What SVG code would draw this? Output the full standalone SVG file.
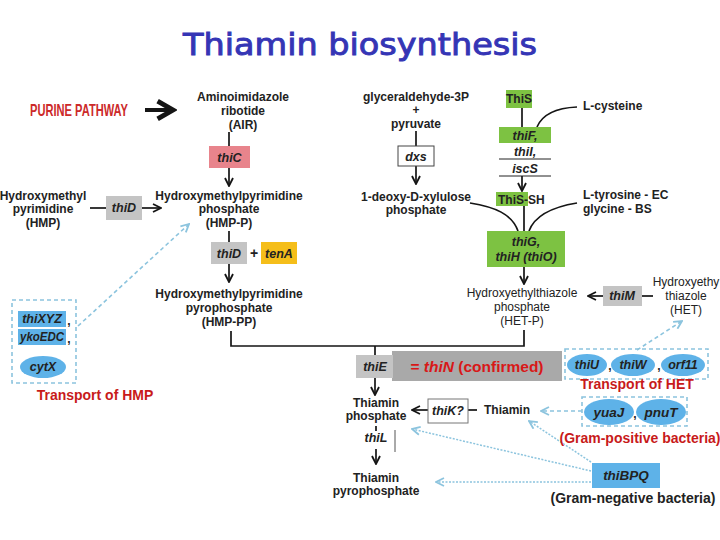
<svg xmlns="http://www.w3.org/2000/svg" width="720" height="540" viewBox="0 0 720 540">
<style>
.t{font-family:"Liberation Sans",Arial,sans-serif;font-size:12px;font-weight:bold;fill:#222;text-anchor:middle}
.n{font-weight:normal}
.s{text-anchor:start}
.g{font-family:"Liberation Sans",Arial,sans-serif;font-size:12.5px;font-weight:bold;font-style:italic;fill:#222;text-anchor:middle}
.big{font-size:13.5px}
.rt{font-family:"Liberation Sans",Arial,sans-serif;font-size:14px;font-weight:bold;fill:#c81a1a;text-anchor:middle}
.ln{stroke:#151515;stroke-width:1.7;fill:none}
.bl{stroke:#8cc4de;stroke-width:1.6;fill:none;stroke-dasharray:4 3}
.dot{stroke:#8cc4de;stroke-width:1.5;fill:none;stroke-dasharray:2 1.5}
.gr{fill:#7dc242}
.gy{fill:#c4c4c4}
.bu{fill:#5eb2e8}
.box{stroke:#8cc4de;stroke-width:1.6;fill:none;stroke-dasharray:4 3}
</style>
<defs>
<marker id="ah" viewBox="0 0 10 10" refX="9" refY="5" markerWidth="10" markerHeight="10" orient="auto" markerUnits="userSpaceOnUse"><path d="M1,1 L9,5 L1,9" fill="none" stroke="#151515" stroke-width="1.8"/></marker>
<marker id="ahb" viewBox="0 0 10 10" refX="9" refY="5" markerWidth="10" markerHeight="10" orient="auto" markerUnits="userSpaceOnUse"><path d="M1,1 L9,5 L1,9" fill="none" stroke="#8cc4de" stroke-width="1.8"/></marker>
<marker id="ahp" viewBox="0 0 10 10" refX="8" refY="5" markerWidth="22" markerHeight="22" orient="auto" markerUnits="userSpaceOnUse"><path d="M1,1 L8,5 L1,9" fill="none" stroke="#151515" stroke-width="2.2"/></marker>
</defs>
<rect width="720" height="540" fill="#fff"/>

<text x="360" y="55" font-family="DejaVu Sans, sans-serif" font-size="30" fill="#3535b5" stroke="#3535b5" stroke-width="0.9" text-anchor="middle" textLength="354" lengthAdjust="spacingAndGlyphs">Thiamin biosynthesis</text>

<g id="connectors">
<line x1="145" y1="110" x2="173" y2="110" stroke="#151515" stroke-width="4" marker-end="url(#ahp)"/>
<line class="ln" x1="229" y1="132" x2="229" y2="146"/>
<line class="ln" x1="229" y1="168" x2="229" y2="186" marker-end="url(#ah)"/>
<line class="ln" x1="90" y1="208" x2="106" y2="208"/>
<line class="ln" x1="142" y1="208" x2="161" y2="208" marker-end="url(#ah)"/>
<line class="ln" x1="229" y1="231" x2="229" y2="242"/>
<line class="ln" x1="229" y1="264" x2="229" y2="282" marker-end="url(#ah)"/>
<polyline class="ln" points="231,331 231,346 524,346 524,330"/>
<line class="ln" x1="375" y1="346" x2="375" y2="355"/>
<line class="ln" x1="375" y1="378" x2="375" y2="395" marker-end="url(#ah)"/>
<line class="ln" x1="428" y1="410" x2="412" y2="410" marker-end="url(#ah)"/>
<line class="ln" x1="468" y1="410" x2="477" y2="410"/>
<line class="ln" x1="376" y1="426" x2="376" y2="431"/>
<line x1="395" y1="430" x2="395" y2="452" stroke="#555" stroke-width="1"/>
<line class="ln" x1="376" y1="449" x2="376" y2="464" marker-end="url(#ah)"/>
<line class="ln" x1="416" y1="131" x2="416" y2="146"/>
<line class="ln" x1="416" y1="166" x2="416" y2="184" marker-end="url(#ah)"/>
<line class="ln" x1="522" y1="108" x2="522" y2="127"/>
<path class="ln" d="M577,107 C555,108 542,115 537,127"/>
<line x1="499" y1="159" x2="551" y2="159" stroke="#222" stroke-width="1"/>
<line x1="499" y1="176" x2="551" y2="176" stroke="#222" stroke-width="1"/>
<line class="ln" x1="522" y1="176" x2="522" y2="191" marker-end="url(#ah)"/>
<line class="ln" x1="524" y1="206" x2="524" y2="231"/>
<path class="ln" d="M470,203 C495,207 512,214 518,231"/>
<path class="ln" d="M577,203 C552,207 535,215 529,231"/>
<line class="ln" x1="524" y1="267" x2="524" y2="284" marker-end="url(#ah)"/>
<line class="ln" x1="603" y1="296" x2="588" y2="296" marker-end="url(#ah)"/>
<line class="ln" x1="642" y1="296" x2="653" y2="296"/>
<line class="bl" x1="78" y1="326" x2="189" y2="224" marker-end="url(#ahb)"/>
<line class="bl" x1="637" y1="350" x2="682" y2="321" marker-end="url(#ahb)"/>
<line class="bl" x1="582" y1="411" x2="541" y2="411" marker-end="url(#ahb)"/>
<line class="dot" x1="591" y1="462" x2="529" y2="421" marker-end="url(#ahb)"/>
<line class="dot" x1="591" y1="471" x2="412" y2="429" marker-end="url(#ahb)"/>
<line class="dot" x1="591" y1="482" x2="436" y2="482" marker-end="url(#ahb)"/>
</g>

<g id="purine">
<text x="79" y="116" font-family="Liberation Sans, Arial, sans-serif" font-size="17" font-weight="bold" fill="#cc2a2a" text-anchor="middle" textLength="98" lengthAdjust="spacingAndGlyphs">PURINE PATHWAY</text>
</g>
<g id="air">
<text class="t" x="243" y="101">Aminoimidazole</text>
<text class="t" x="243" y="115">ribotide</text>
<text class="t" x="243" y="129">(AIR)</text>
</g>
<g id="thiC">
<rect x="209" y="146" width="41" height="22" fill="#e8848c"/>
<text class="g" x="229.5" y="162">thiC</text>
</g>
<g id="hmp">
<text class="t" x="43" y="200">Hydroxymethyl</text>
<text class="t" x="43" y="213">pyrimidine</text>
<text class="t" x="43" y="227">(HMP)</text>
</g>
<g id="thiD1">
<rect class="gy" x="106" y="196" width="36" height="24"/>
<text class="g" x="124" y="212">thiD</text>
</g>
<g id="hmpp">
<text class="t" x="229" y="200">Hydroxymethylpyrimidine</text>
<text class="t" x="229" y="213">phosphate</text>
<text class="t" x="229" y="227">(HMP-P)</text>
</g>
<g id="thiD2">
<rect class="gy" x="211" y="242" width="36" height="22"/>
<text class="g" x="229" y="258">thiD</text>
<text class="t" x="254" y="258" style="font-size:14px">+</text>
</g>
<g id="tenA">
<rect x="261" y="242" width="36" height="22" fill="#f5be1a"/>
<text class="g" x="279" y="258">tenA</text>
</g>
<g id="hmppp">
<text class="t" x="229" y="298">Hydroxymethylpyrimidine</text>
<text class="t" x="229" y="312">pyrophosphate</text>
<text class="t" x="229" y="326">(HMP-PP)</text>
</g>
<g id="hmpTransport">
<rect class="box" x="12" y="300" width="64" height="83"/>
<rect class="bu" x="18" y="311" width="48" height="16"/>
<text class="g" x="42" y="323">thiXYZ</text>
<text class="t" x="69" y="325">,</text>
<rect class="bu" x="18" y="329" width="48" height="16"/>
<text class="g" x="42" y="341" textLength="44" lengthAdjust="spacingAndGlyphs">ykoEDC</text>
<text class="t" x="69" y="343">,</text>
<ellipse class="bu" cx="43" cy="367" rx="23" ry="11"/>
<text class="g" x="43" y="371">cytX</text>
<text class="rt" x="95" y="400">Transport of HMP</text>
</g>
<g id="g3p">
<text class="t" x="416" y="101">glyceraldehyde-3P</text>
<text class="t" x="416" y="114">+</text>
<text class="t" x="416" y="128">pyruvate</text>
</g>
<g id="dxs">
<rect x="398" y="146" width="36" height="20" fill="#fff" stroke="#444" stroke-width="1"/>
<text class="g" x="416" y="161">dxs</text>
</g>
<g id="dxp">
<text class="t" x="416" y="201">1-deoxy-D-xylulose</text>
<text class="t" x="416" y="214">phosphate</text>
</g>
<g id="thiS">
<rect class="gr" x="506" y="90" width="26" height="18"/>
<text class="t" x="519" y="103">ThiS</text>
</g>
<g id="cys">
<text class="t s" x="583" y="110">L-cysteine</text>
</g>
<g id="thiF">
<rect class="gr" x="499" y="127" width="52" height="16"/>
<text class="g" x="525" y="140">thiF,</text>
<text class="g" x="525" y="156">thiI,</text>
<text class="g" x="525" y="173">iscS</text>
</g>
<g id="thiSSH">
<rect class="gr" x="496" y="192" width="32" height="14"/>
<text class="t s" x="498" y="204">ThiS-SH</text>
</g>
<g id="tyr">
<text class="t s" x="583" y="199">L-tyrosine - EC</text>
<text class="t s" x="583" y="213">glycine - BS</text>
</g>
<g id="thiG">
<rect class="gr" x="487" y="231" width="78" height="36"/>
<text class="g" x="526" y="246">thiG,</text>
<text class="g" x="526" y="261">thiH (thiO)</text>
</g>
<g id="hetp">
<text class="t n" x="522" y="297">Hydroxyethylthiazole</text>
<text class="t n" x="522" y="311">phosphate</text>
<text class="t n" x="522" y="325">(HET-P)</text>
</g>
<g id="thiM">
<rect class="gy" x="603" y="286" width="39" height="20"/>
<text class="g" x="622" y="300">thiM</text>
</g>
<g id="het">
<text class="t n" x="686" y="286">Hydroxyethy</text>
<text class="t n" x="686" y="300">thiazole</text>
<text class="t n" x="686" y="314">(HET)</text>
</g>
<g id="thiE">
<rect x="392" y="351" width="170" height="30" fill="#a9a9a9"/>
<rect class="gy" x="356" y="355" width="37" height="23"/>
<text class="g" x="375" y="371">thiE</text>
<text x="477" y="372" font-family="Liberation Sans, Arial, sans-serif" font-size="15.5" font-weight="bold" fill="#d81818" text-anchor="middle">= <tspan font-style="italic">thiN</tspan> (confirmed)</text>
</g>
<g id="hetTransport">
<rect class="box" x="565" y="349" width="143" height="30"/>
<ellipse class="bu" cx="587" cy="365" rx="20" ry="11"/>
<text class="g" x="587" y="369">thiU</text>
<text class="t" x="610" y="370">,</text>
<ellipse class="bu" cx="633" cy="365" rx="22" ry="11"/>
<text class="g" x="633" y="369">thiW</text>
<text class="t" x="659" y="370">,</text>
<ellipse class="bu" cx="683" cy="365" rx="22" ry="11"/>
<text class="g" x="683" y="369">orf11</text>
<text class="rt" x="637" y="389">Transport of HET</text>
</g>
<g id="thp">
<text class="t" x="376" y="407">Thiamin</text>
<text class="t" x="376" y="420">phosphate</text>
</g>
<g id="thiK">
<rect x="428" y="399" width="40" height="24" fill="none" stroke="#777" stroke-width="1"/>
<text class="g" x="448" y="415">thiK?</text>
</g>
<g id="thiamin">
<text class="t" x="507" y="414">Thiamin</text>
</g>
<g id="thiL">
<text class="g" x="376" y="442">thiL</text>
</g>
<g id="tpp">
<text class="t" x="376" y="482">Thiamin</text>
<text class="t" x="376" y="495">pyrophosphate</text>
</g>
<g id="gramPos">
<rect class="box" x="582" y="397" width="105" height="29"/>
<ellipse class="bu" cx="609" cy="412" rx="25" ry="13"/>
<text class="g big" x="609" y="417">yuaJ</text>
<text class="t" x="635" y="418">,</text>
<ellipse class="bu" cx="661" cy="412" rx="25" ry="13"/>
<text class="g big" x="661" y="417">pnuT</text>
<text class="rt" x="640" y="443">(Gram-positive bacteria)</text>
</g>
<g id="thiBPQ">
<rect class="bu" x="592" y="463" width="68" height="25"/>
<text class="g big" x="626" y="480">thiBPQ</text>
<text class="t" x="633" y="503" style="font-size:14px">(Gram-negative bacteria)</text>
</g>
</svg>
